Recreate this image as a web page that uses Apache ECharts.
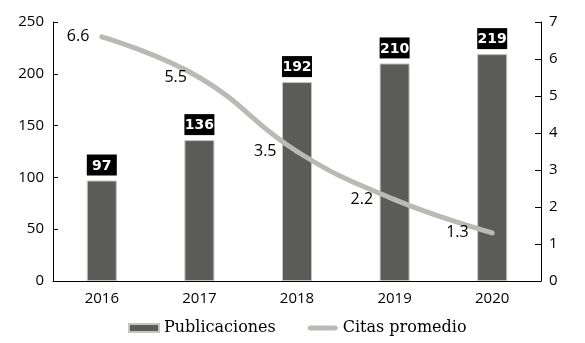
<!DOCTYPE html>
<html>
<head>
<meta charset="utf-8">
<script src="https://cdn.jsdelivr.net/npm/echarts@6/dist/echarts.min.js"></script>
<style>
  html, body { margin: 0; padding: 0; background: #fff; }
  #chart { width: 585px; height: 343px; }
</style>
</head>
<body>
<div id="chart"></div>
<script>
const years = ['2016', '2017', '2018', '2019', '2020']
const publicaciones = [97, 136, 192, 210, 219]
const citasPromedio = [6.6, 5.5, 3.5, 2.2, 1.3]
// gap between each line label and its point (px)
const citasLabelGap = [10, 10, 18, 19, 21]

const tickFont = { fontFamily: 'Open Sans', fontSize: 15, color: '#000' }

const myChart = echarts.init(document.getElementById('chart'))

myChart.setOption({
    animation: false,
    grid: { left: 53, right: 44, top: 22, bottom: 62 },
    legend: {
        left: 123,
        top: 315,
        itemWidth: 30,
        itemHeight: 8,
        itemGap: 32,
        textStyle: { fontFamily: 'DejaVu Serif', fontSize: 16, color: '#000' },
        data: [
            { name: 'Publicaciones', icon: 'rect' },
            { name: 'Citas promedio', icon: 'path://M2.5,0 L27.5,0 A2.5,2.5 0 0 1 27.5,5 L2.5,5 A2.5,2.5 0 0 1 2.5,0 Z' }
        ]
    },
    xAxis: {
        type: 'category',
        data: years,
        axisLine: { lineStyle: { color: '#000', width: 1 } },
        axisTick: { show: false },
        axisLabel: Object.assign({ margin: 10 }, tickFont)
    },
    yAxis: [
        {
            type: 'value',
            min: 0, max: 250, interval: 50,
            axisLine: { show: true, lineStyle: { color: '#000' } },
            axisTick: { show: true, inside: true, length: 5, lineStyle: { color: '#000' } },
            splitLine: { show: false },
            axisLabel: Object.assign({ margin: 9 }, tickFont)
        },
        {
            type: 'value',
            min: 0, max: 7, interval: 1,
            position: 'right',
            axisLine: { show: true, lineStyle: { color: '#000' } },
            axisTick: { show: true, inside: true, length: 6, lineStyle: { color: '#000' } },
            splitLine: { show: false },
            axisLabel: Object.assign({ margin: 8 }, tickFont)
        }
    ],
    series: [
        {
            name: 'Publicaciones',
            type: 'bar',
            data: publicaciones,
            barWidth: 30,
            itemStyle: { color: '#5b5b59', borderColor: '#c4c4c0', borderWidth: 1 },
            label: {
                show: true,
                position: 'top',
                distance: 5,
                backgroundColor: '#000',
                color: '#fff',
                fontFamily: 'DejaVu Sans',
                fontWeight: 'bold',
                fontSize: 14,
                lineHeight: 15,
                width: 30,
                align: 'center',
                padding: [4, 0, 2, 0]
            }
        },
        {
            name: 'Citas promedio',
            type: 'line',
            yAxisIndex: 1,
            data: citasPromedio.map((v, i) => ({ value: v, label: { distance: citasLabelGap[i] } })),
            smooth: 0.45,
            symbol: 'circle',
            symbolSize: 5,
            itemStyle: { color: '#b9b9b5' },
            lineStyle: { color: '#b9b9b5', width: 5 },
            label: {
                show: true,
                position: 'left',
                fontFamily: 'Open Sans',
                fontSize: 16,
                color: '#000',
                formatter: p => p.value.toFixed(1)
            },
            z: 3
        }
    ]
})
</script>
</body>
</html>
